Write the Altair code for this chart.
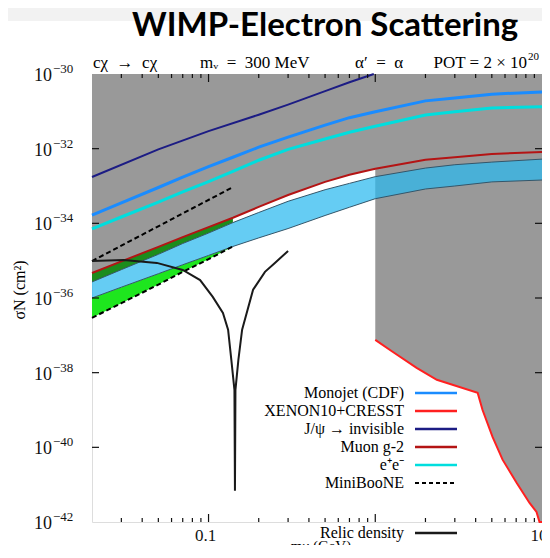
import altair as alt
import pandas as pd

# ---------------- data (log10 of sigma in cm^2, m in GeV) ----------------
M = [0.02, 0.03, 0.05, 0.07, 0.1, 0.14, 0.2, 0.3, 0.5, 0.7, 1, 2, 3, 5, 10]
MONOJET_EXP = [-33.78, -33.45, -33.04, -32.76, -32.48, -32.23, -31.96, -31.69, -31.37, -31.17, -31.01, -30.72, -30.64, -30.54, -30.48]
EE_EXP = [-34.15, -33.83, -33.43, -33.16, -32.88, -32.61, -32.31, -32.02, -31.74, -31.56, -31.40, -31.10, -31.01, -30.91, -30.88]
G2_EXP = [-35.33, -35.02, -34.63, -34.37, -34.10, -33.85, -33.56, -33.24, -32.89, -32.70, -32.54, -32.30, -32.23, -32.14, -32.09]
BAND_TOP_EXP = [-35.57, -35.24, -34.83, -34.54, -34.26, -33.98, -33.71, -33.41, -33.10, -32.93, -32.75, -32.52, -32.43, -32.36, -32.28]
BAND_BOT_EXP = [-36.00, -35.71, -35.35, -35.11, -34.86, -34.62, -34.39, -34.14, -33.79, -33.57, -33.34, -33.08, -33.00, -32.89, -32.84]

JPSI_M = [0.02, 0.05, 0.1, 0.2, 0.3, 0.5, 0.7, 0.98]
JPSI_EXP = [-32.76, -32.02, -31.53, -31.09, -30.82, -30.46, -30.22, -30.0]

MINI_LO_EXP = [-36.53, -36.14, -35.64, -35.30, -34.96, -34.62]   # on M[:6]
MINI_UP_M = [0.02, 0.14]
MINI_UP_EXP = [-35.01, -33.03]

XENON_M = [1.0, 1.27, 1.77, 2.34, 4.11, 4.40, 5.05, 5.80, 7.04, 8.42, 9.27, 9.66, 10.0]
XENON_EXP = [-37.12, -37.44, -37.87, -38.19, -38.54, -39.00, -39.72, -40.33, -40.95, -41.49, -41.73, -42.0, -42.0]

RELIC_M = [0.02, 0.031, 0.049, 0.07, 0.089, 0.106, 0.122, 0.131, 0.137, 0.143, 0.144,
           0.145, 0.151, 0.159, 0.185, 0.218, 0.25, 0.3]
RELIC_EXP = [-35.01, -34.98, -35.06, -35.25, -35.52, -35.97, -36.40, -36.85, -37.66, -38.46, -41.16,
             -38.46, -37.66, -36.85, -35.78, -35.30, -35.06, -34.74]

X_MINOR = [0.03, 0.04, 0.05, 0.06, 0.07, 0.08, 0.09, 0.2, 0.3, 0.4, 0.5, 0.6, 0.7, 0.8, 0.9,
           2, 3, 4, 5, 6, 7, 8, 9]
X_MAJOR = [0.1, 1]
X_LABELS = [(0.1, "0.1"), (10, "10")]
Y_TICK_EXP = [-32, -34, -36, -38, -40]
Y_LABEL_EXP = [-30, -32, -34, -36, -38, -40, -42]

LEGEND = [
    ("Monojet (CDF)", "#1a8cff", False),
    ("XENON10+CRESST", "#ff2020", False),
    ("J/\u03c8 \u2192 invisible", "#1c1c84", False),
    ("Muon g-2", "#b41414", False),
    ("e\u207ae\u207b", "#00dede", False),
    ("MiniBooNE", "#000000", True),
]
LEGEND_RELIC = ("Relic density", "#1a1a1a")

# ---------------- styling ----------------
W, H = 450, 448
SERIF = "Liberation Serif"
GREY = "#999999"
EN = "\u2002"

xs = alt.Scale(type="log", domain=[0.02, 10])
ys = alt.Scale(type="log", domain=[1e-42, 1e-30])


def pw(e):
    return [10.0 ** v for v in e]


def X(f="m"):
    return alt.X(f"{f}:Q", scale=xs, axis=None)


def Y(f="s"):
    return alt.Y(f"{f}:Q", scale=ys, axis=None, stack=None)


def curve(m, e, color, width, dash=None):
    df = pd.DataFrame({"m": m, "s": pw(e), "i": list(range(len(m)))})
    kw = dict(color=color, strokeWidth=width)
    if dash:
        kw["strokeDash"] = dash
    return alt.Chart(df).mark_line(**kw).encode(X(), Y(), order="i:Q")


DUMMY = pd.DataFrame({"a": [0]})


def txt(s, x, y, size, align="left", font=SERIF, weight="normal", angle=0, color="#000",
        baseline="middle"):
    kw = dict(align=align, baseline=baseline, font=font, fontSize=size, fontWeight=weight, color=color)
    if angle:
        kw["angle"] = angle
    return alt.Chart(DUMMY).mark_text(**kw).encode(x=alt.value(x), y=alt.value(y), text=alt.value(s))


def legend_line(color, yy, dashed=False):
    kw = dict(color=color, strokeWidth=2.5)
    if dashed:
        kw["strokeDash"] = [4, 3]
        kw["strokeWidth"] = 2
    return alt.Chart(DUMMY).mark_rule(**kw).encode(
        x=alt.value(323), x2=alt.value(365), y=alt.value(yy))


layers = []

# top light-grey slide strip
layers.append(alt.Chart(DUMMY).mark_rect(color="#f2f2f2").encode(
    x=alt.value(-84), x2=alt.value(460), y=alt.value(-66), y2=alt.value(-53)))

# excluded (grey) regions
df_g2 = pd.DataFrame({"m": M, "s": pw(G2_EXP)})
layers.append(alt.Chart(df_g2).mark_area(color=GREY).encode(X(), Y(), y2=alt.value(0)))
df_x = pd.DataFrame({"m": XENON_M, "s": pw(XENON_EXP)})
layers.append(alt.Chart(df_x).mark_area(color=GREY).encode(X(), Y(), y2=alt.value(0)))

# relic target band
df_band = pd.DataFrame({"m": M, "top": pw(BAND_TOP_EXP), "bot": pw(BAND_BOT_EXP)})
layers.append(alt.Chart(df_band).mark_area(color="#2ab8ee", opacity=0.72).encode(
    X(), Y("bot"), y2="top:Q"))

# MiniBooNE green regions
df_gr = pd.DataFrame({"m": M[:6], "g2": pw(G2_EXP[:6]), "top": pw(BAND_TOP_EXP[:6]),
                      "bot": pw(BAND_BOT_EXP[:6]), "lo": pw(MINI_LO_EXP)})
layers.append(alt.Chart(df_gr).mark_area(color="#1c8c1c").encode(X(), Y("top"), y2="g2:Q"))
layers.append(alt.Chart(df_gr).mark_area(color="#1ee61e").encode(X(), Y("lo"), y2="bot:Q"))

# band edges
layers.append(curve(M, BAND_TOP_EXP, "#34566a", 1))
layers.append(curve(M, BAND_BOT_EXP, "#34566a", 1))

# constraint lines
layers.append(curve(M, G2_EXP, "#b41414", 2))
layers.append(curve(M, EE_EXP, "#00dede", 3))
layers.append(curve(M, MONOJET_EXP, "#1a8cff", 3))
layers.append(curve(JPSI_M, JPSI_EXP, "#1c1c84", 2))
layers.append(curve(XENON_M, XENON_EXP, "#ff2020", 2))
layers.append(curve(MINI_UP_M, MINI_UP_EXP, "#000000", 2, [5, 3]))
layers.append(curve(M[:6], MINI_LO_EXP, "#000000", 2, [5, 3]))
layers.append(curve(RELIC_M, RELIC_EXP, "#1a1a1a", 2))

# ticks (inward)
df_xmin = pd.DataFrame({"m": X_MINOR})
df_xmaj = pd.DataFrame({"m": X_MAJOR})
for df, L in ((df_xmin, 4), (df_xmaj, 8)):
    layers.append(alt.Chart(df).mark_rule(color="#111", strokeWidth=1.2).encode(
        X(), y=alt.value(H), y2=alt.value(H - L)))
    layers.append(alt.Chart(df).mark_rule(color="#111", strokeWidth=1.2).encode(
        X(), y=alt.value(0), y2=alt.value(L)))
df_yt = pd.DataFrame({"s": pw(Y_TICK_EXP)})
layers.append(alt.Chart(df_yt).mark_rule(color="#111", strokeWidth=1.2).encode(
    Y(), x=alt.value(0), x2=alt.value(7)))
layers.append(alt.Chart(df_yt).mark_rule(color="#111", strokeWidth=1.2).encode(
    Y(), x=alt.value(W), x2=alt.value(W - 7)))

# tick labels: "10" with a raised exponent
df_yl = pd.DataFrame({"s": pw(Y_LABEL_EXP),
                      "e": ["\u2212" + str(-e) for e in Y_LABEL_EXP]})
layers.append(alt.Chart(df_yl).mark_text(align="right", baseline="middle", font=SERIF,
                                         fontSize=18, color="#111", dy=2).encode(
    Y(), x=alt.value(-40), text=alt.value("10")))
layers.append(alt.Chart(df_yl).mark_text(align="left", baseline="middle", font=SERIF,
                                         fontSize=13, color="#111", dy=-5).encode(
    Y(), x=alt.value(-39), text="e:N"))
df_xl = pd.DataFrame({"m": [v for v, _ in X_LABELS], "t": [t for _, t in X_LABELS]})
layers.append(alt.Chart(df_xl).mark_text(align="center", baseline="middle", font=SERIF,
                                         fontSize=17, color="#111", dx=-3).encode(
    X(), y=alt.value(H + 14), text="t:N"))

# axis titles
layers.append(txt("\u03c3N (cm\u00b2)", -72, 216, 16, align="center", angle=270))
layers.append(txt("m\u03c7 (GeV)", 229, 472, 15, align="center"))

# header texts
layers.append(txt("WIMP-Electron Scattering", 40, -38, 33, font="Lato", weight="bold",
                  baseline="alphabetic"))
layers.append(txt(f"c\u03c7{EN}\u2192{EN}c\u03c7", 1, -11, 17))
layers.append(txt(f"m\u1d65{EN}={EN}300 MeV", 108, -11, 17))
layers.append(txt(f"\u03b1\u2032{EN}={EN}\u03b1", 263, -11, 17))
layers.append(txt("POT = 2 \u00d7 10", 435, -11, 17, align="right"))
layers.append(txt("20", 436, -17, 11))

# legend
for k, (lab, col, dashed) in enumerate(LEGEND):
    yy = 319 + 18 * k
    layers.append(txt(lab, 312, yy, 16, align="right"))
    layers.append(legend_line(col, yy, dashed))
layers.append(txt(LEGEND_RELIC[0], 312, 459, 16, align="right"))
layers.append(legend_line(LEGEND_RELIC[1], 459))

chart = alt.layer(*layers).properties(
    width=W, height=H,
    autosize=alt.AutoSizeParams(type="none"),
    padding={"left": 84, "top": 66, "right": 0, "bottom": 23},
).configure_view(stroke="#222", strokeWidth=1.5).configure(background="white")

chart.save("out.html", embed_options={"renderer": "svg", "actions": False})
